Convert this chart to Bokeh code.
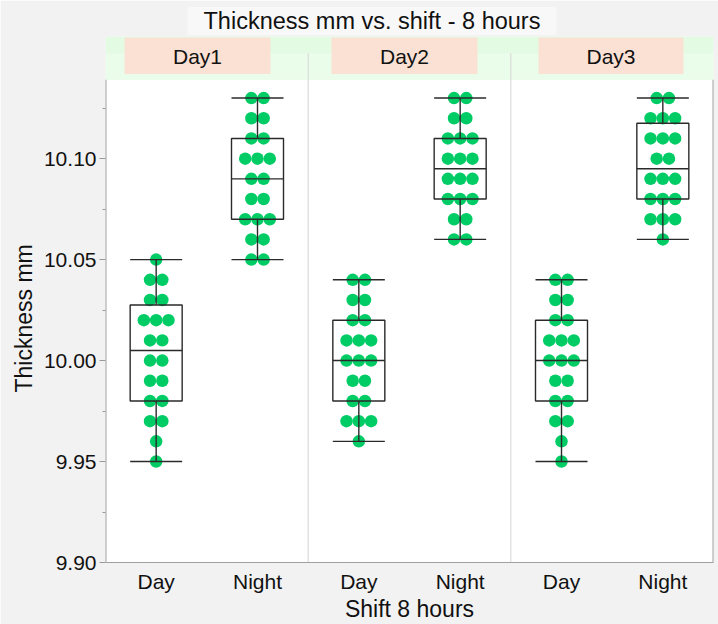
import numpy as np
from bokeh.plotting import figure
from bokeh.models import FixedTicker, Title, Range1d, NumeralTickFormatter
from bokeh.embed import file_html
from bokeh.resources import INLINE
from bokeh.core.properties import value

# ---------------- data ----------------
days = ["Day1", "Day2", "Day3"]
shifts = ["Day", "Night"]

day1_day = [9.95, 9.96, 9.97, 9.97, 9.98, 9.98, 9.99, 9.99, 10.00, 10.00,
            10.01, 10.01, 10.02, 10.02, 10.02, 10.03, 10.03, 10.04, 10.04, 10.05]
day1_night = [10.05, 10.05, 10.06, 10.06, 10.07, 10.07, 10.07, 10.08, 10.08, 10.09,
              10.09, 10.10, 10.10, 10.10, 10.11, 10.11, 10.12, 10.12, 10.13, 10.13]
day2_day = [9.96, 9.97, 9.97, 9.97, 9.98, 9.98, 9.99, 9.99, 10.00, 10.00,
            10.00, 10.01, 10.01, 10.01, 10.02, 10.02, 10.03, 10.03, 10.04, 10.04]
day2_night = [10.06, 10.06, 10.07, 10.07, 10.08, 10.08, 10.08, 10.09, 10.09, 10.09,
              10.10, 10.10, 10.10, 10.11, 10.11, 10.11, 10.12, 10.12, 10.13, 10.13]
day3_day = [9.95, 9.96, 9.97, 9.97, 9.98, 9.98, 9.99, 9.99, 10.00, 10.00,
            10.00, 10.01, 10.01, 10.01, 10.02, 10.02, 10.03, 10.03, 10.04, 10.04]
day3_night = [10.06, 10.07, 10.07, 10.07, 10.08, 10.08, 10.08, 10.09, 10.09, 10.09,
              10.10, 10.10, 10.11, 10.11, 10.11, 10.12, 10.12, 10.12, 10.13, 10.13]

series = [[day1_day, day1_night], [day2_day, day2_night], [day3_day, day3_night]]

y_ticks = [9.90, 9.95, 10.00, 10.05, 10.10]
y_minor = [9.925, 9.975, 10.025, 10.075, 10.125]

title_text = "Thickness mm vs. shift - 8 hours"
y_title = "Thickness mm"
x_title = "Shift 8 hours"

# ---------------- layout helpers ----------------
W, H = 718, 624
FL, FR, FT, FB = 105, 713, 36, 570   # frame edges in canvas pixels
Y0 = 9.90
PXU_Y = 2050.0                       # pixels per mm unit
XU = (FR - FL) / 3.0                 # pixels per panel


def ypx(py):
    return Y0 + (FB - py) / PXU_Y


def xpx(px):
    return (px - FL) / XU


FONT = value("Liberation Sans")
GREEN = "#00cc66"
LINE = "#2a2a2a"
TXT = "#111111"

p = figure(width=W, height=H, output_backend="svg", toolbar_location=None,
           x_range=Range1d(0, 3), y_range=Range1d(Y0, ypx(FT)),
           min_border_left=FL, min_border_right=W - FR,
           min_border_top=FT, min_border_bottom=H - FB)
p.outline_line_color = None
p.xgrid.visible = False
p.ygrid.visible = False
p.background_fill_color = "#f2f2f2"
p.border_fill_color = "#f2f2f2"

top_white = ypx(80)
# plot area
p.quad(left=0, right=3, bottom=Y0, top=top_white, fill_color="white", line_color=None)
# facet strip
p.quad(left=0, right=3, bottom=top_white, top=ypx(53), fill_color="#eafdea", line_color=None)
p.quad(left=0, right=3, bottom=ypx(53), top=ypx(FT), fill_color="#e2fbe2", line_color=None)
box_l = [xpx(v) for v in (124, 331, 538)]
box_r = [xpx(v) for v in (270, 477, 683)]
p.quad(left=box_l, right=box_r, bottom=ypx(74), top=ypx(37),
       fill_color="#fbe1d4", line_color=None)
p.text(x=[(a + b) / 2 for a, b in zip(box_l, box_r)], y=[ypx(56)] * 3, text=days,
       text_align="center", text_baseline="middle", text_font=FONT,
       text_font_size="21px", text_color=TXT)

# panel dividers
p.segment(x0=[1, 2], y0=[Y0, Y0], x1=[1, 2], y1=[ypx(53)] * 2,
          line_color="#d4d4d4", line_width=1)

# ---------------- dots and boxes ----------------
dx = 12.3 / XU
hw = 26.0 / XU
xs, ys = [], []
bx = dict(l=[], r=[], b=[], t=[])
med = dict(x0=[], x1=[], y=[])
wh = dict(x=[], y0=[], y1=[])
caps = dict(x0=[], x1=[], y=[])
tick_pos, tick_lab = [], []
for d, pair in enumerate(series):
    for s, vals in enumerate(pair):
        cx = d + 0.25 + 0.5 * s
        tick_pos.append(cx)
        tick_lab.append(shifts[s])
        arr = np.array(vals)
        rounded = np.round(arr, 2)
        for v in np.unique(rounded):
            k = int((rounded == v).sum())
            for i in range(k):
                xs.append(cx + (i - (k - 1) / 2.0) * dx)
                ys.append(float(v))
        q1, q2, q3 = np.percentile(arr, [25, 50, 75], method="weibull")
        lo, hi = arr.min(), arr.max()
        bx["l"].append(cx - hw); bx["r"].append(cx + hw)
        bx["b"].append(q1); bx["t"].append(q3)
        med["x0"].append(cx - hw); med["x1"].append(cx + hw); med["y"].append(q2)
        wh["x"] += [cx, cx]; wh["y0"] += [lo, q3]; wh["y1"] += [q1, hi]
        caps["x0"] += [cx - hw, cx - hw]; caps["x1"] += [cx + hw, cx + hw]
        caps["y"] += [lo, hi]

p.scatter(x=xs, y=ys, size=12.5, fill_color=GREEN, line_color=None)
p.quad(left=bx["l"], right=bx["r"], bottom=bx["b"], top=bx["t"],
       fill_color=None, line_color=LINE, line_width=1.4)
p.segment(x0=med["x0"], y0=med["y"], x1=med["x1"], y1=med["y"], line_color=LINE, line_width=1.4)
p.segment(x0=wh["x"], y0=wh["y0"], x1=wh["x"], y1=wh["y1"], line_color=LINE, line_width=1.4)
p.segment(x0=caps["x0"], y0=caps["y"], x1=caps["x1"], y1=caps["y"], line_color=LINE, line_width=1.4)

# frame borders (left axis line, right border) of the white plot area
p.segment(x0=[0, 3], y0=[Y0, Y0], x1=[0, 3], y1=[top_white, top_white],
          line_color="#a0a0a0", line_width=2)

# ---------------- axes ----------------
ya = p.yaxis[0]
ya.ticker = FixedTicker(ticks=y_ticks, minor_ticks=y_minor)
ya.formatter = NumeralTickFormatter(format="0.00")
ya.axis_line_color = None
ya.major_tick_out = 6
ya.major_tick_in = 0
ya.minor_tick_out = 3
ya.minor_tick_in = 0
ya.major_tick_line_color = "#9a9a9a"
ya.minor_tick_line_color = "#9a9a9a"
ya.major_label_standoff = 3
ya.major_label_text_font = "Liberation Sans"
ya.major_label_text_font_size = "21px"
ya.major_label_text_color = TXT

xa = p.xaxis[0]
xa.ticker = FixedTicker(ticks=tick_pos)
xa.major_label_overrides = {t: l for t, l in zip(tick_pos, tick_lab)}
xa.axis_line_color = "#a0a0a0"
xa.major_tick_line_color = None
xa.minor_tick_line_color = None
xa.major_label_standoff = 1
xa.major_label_text_font = "Liberation Sans"
xa.major_label_text_font_size = "21px"
xa.major_label_text_color = TXT
xa.axis_label = x_title
xa.axis_label_standoff = 0
xa.axis_label_text_font = "Liberation Sans"
xa.axis_label_text_font_size = "23px"
xa.axis_label_text_font_style = "normal"
xa.axis_label_text_color = TXT

# ---------------- titles ----------------
main_title = Title(text=title_text, align="left", offset=82, standoff=3,
                   text_font="Liberation Sans", text_font_size="23.5px",
                   text_font_style="normal", text_color=TXT,
                   background_fill_color="#f8f8f8", padding=(16, 1))
p.add_layout(main_title, "above")
ytitle = Title(text=y_title, align="left", offset=170, standoff=8,
               text_font="Liberation Sans", text_font_size="23px",
               text_font_style="normal", text_color=TXT)
p.add_layout(ytitle, "left")

open("out.html", "w").write(file_html(p, INLINE))
